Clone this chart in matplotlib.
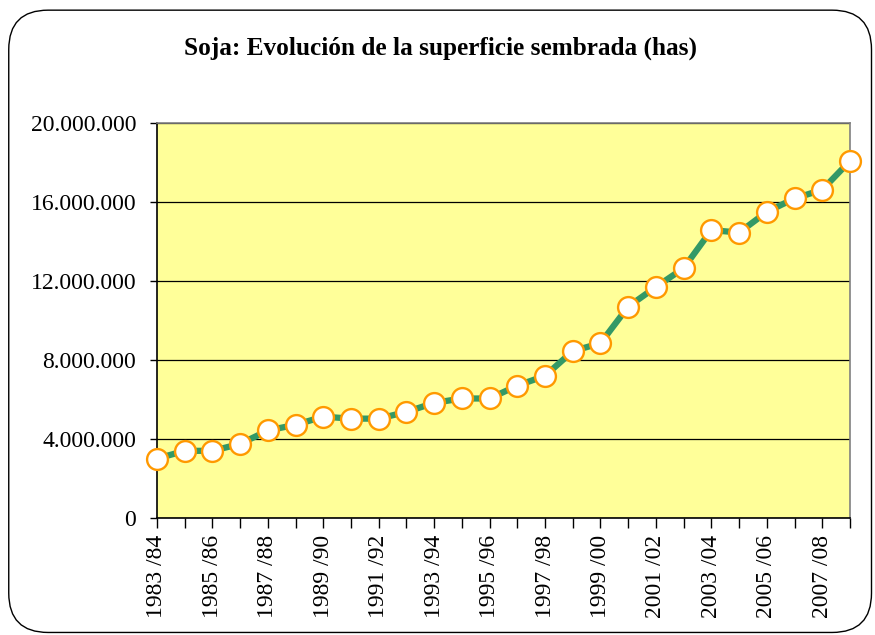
import matplotlib.pyplot as plt
from matplotlib.patches import FancyBboxPatch
from matplotlib.ticker import FuncFormatter, MultipleLocator
import numpy as np

# -------------------------
# Data
# -------------------------
campaigns = ['1983 /84', '1984 /85', '1985 /86', '1986 /87', '1987 /88', '1988 /89',
             '1989 /90', '1990 /91', '1991 /92', '1992 /93', '1993 /94', '1994 /95',
             '1995 /96', '1996 /97', '1997 /98', '1998 /99', '1999 /00', '2000 /01',
             '2001 /02', '2002 /03', '2003 /04', '2004 /05', '2005 /06', '2006 /07',
             '2007 /08', '2008 /09']
area_has = [3004000, 3400000, 3400000, 3750000, 4430000, 4720000,
            5130000, 5030000, 5030000, 5370000, 5830000, 6050000,
            6050000, 6700000, 7200000, 8450000, 8850000, 10700000,
            11700000, 12650000, 14580000, 14450000, 15500000, 16180000,
            16620000, 18080000]

title = 'Soja: Evolución de la superficie sembrada (has)'

plt.rcParams['font.family'] = ['Liberation Serif', 'DejaVu Serif']

# -------------------------
# Figure setup
# -------------------------
fig = plt.figure(figsize=(8.75, 6.35), dpi=100)

# rounded frame around the chart
frame = FancyBboxPatch((0.010, 0.004), 0.986, 0.980,
                       boxstyle='round,pad=0,rounding_size=0.045',
                       transform=fig.transFigure, facecolor='none',
                       edgecolor='black', linewidth=1.0, mutation_aspect=875/635,
                       zorder=-1)
fig.patches.append(frame)

ax = fig.add_axes([0.1794, 0.1843, 0.7920, 0.6220])
ax.set_facecolor('#FFFF99')

x = np.arange(len(campaigns))
ax.plot(x, area_has, color='#339966', linewidth=4.5, zorder=3,
        marker='o', markersize=15, markerfacecolor='white',
        markeredgecolor='#FF9900', markeredgewidth=1.7, clip_on=False)

ax.set_xlim(0, len(campaigns) - 1)
ax.set_ylim(0, 20000000)
ax.yaxis.set_major_locator(MultipleLocator(4000000))
ax.yaxis.set_major_formatter(FuncFormatter(lambda v, p: f'{int(v):,}'.replace(',', '.')))
ax.grid(axis='y', color='black', linewidth=0.9, zorder=1)
ax.set_axisbelow(True)

ax.set_xticks(x)
ax.set_xticklabels([c if i % 2 == 0 else '' for i, c in enumerate(campaigns)],
                   rotation=90, fontsize=17)
ax.tick_params(axis='x', length=7, width=1, direction='out', pad=5)
ax.tick_params(axis='y', length=5, width=1, direction='out', labelsize=17, pad=10)

for side in ['left', 'bottom']:
    ax.spines[side].set_color('black')
    ax.spines[side].set_linewidth(1.2)
for side in ['top', 'right']:
    ax.spines[side].set_color('#808080')
    ax.spines[side].set_linewidth(1.2)

fig.text(0.503, 0.924, title, ha='center', va='center',
         fontsize=18.2, fontweight='bold')

plt.savefig('out.png', dpi=100)
